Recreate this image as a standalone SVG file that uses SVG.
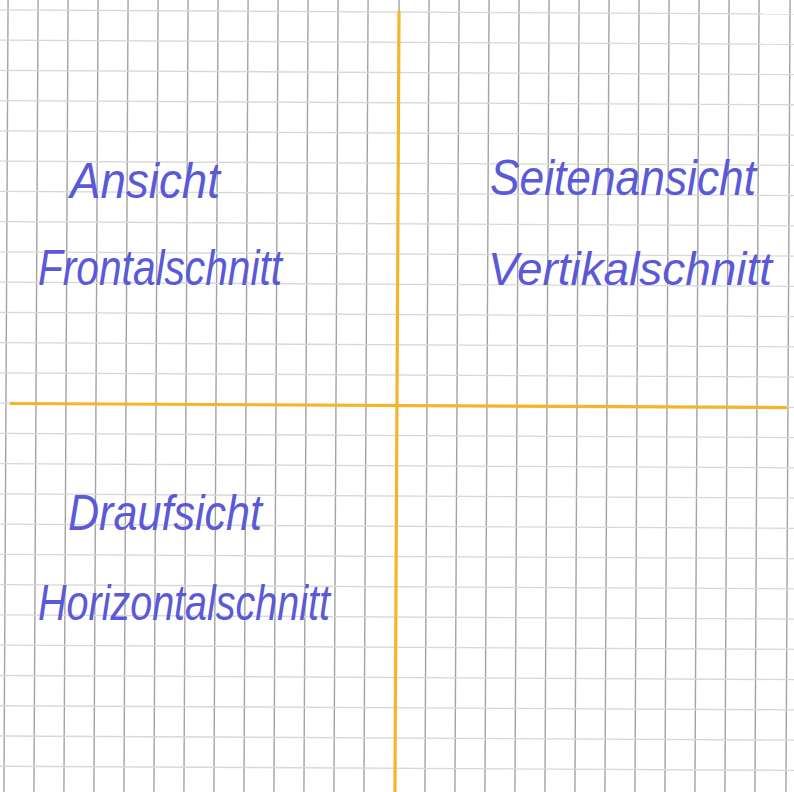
<svg xmlns="http://www.w3.org/2000/svg" width="794" height="792" viewBox="0 0 794 792">
<style>
.v{stroke:#a3a3a3;stroke-width:1.4}
.h{stroke:#d8d8d8;stroke-width:1.4}
.ax{stroke:#f4b42c;stroke-width:3.2;stroke-linecap:round}
.t{font-family:"Liberation Sans",sans-serif;font-style:italic;fill:#5a5ad8;font-size:50px}
</style>
<rect width="794" height="792" fill="#ffffff"/>
<g id="grid" transform="rotate(0.3 397 396)">
<g id="vlines">
<line class="v" x1="6" y1="-10" x2="6" y2="800"/><line class="v" x1="36" y1="-10" x2="36" y2="800"/><line class="v" x1="66" y1="-10" x2="66" y2="800"/><line class="v" x1="96" y1="-10" x2="96" y2="800"/><line class="v" x1="126" y1="-10" x2="126" y2="800"/><line class="v" x1="156" y1="-10" x2="156" y2="800"/><line class="v" x1="186" y1="-10" x2="186" y2="800"/><line class="v" x1="216" y1="-10" x2="216" y2="800"/><line class="v" x1="246" y1="-10" x2="246" y2="800"/><line class="v" x1="276" y1="-10" x2="276" y2="800"/><line class="v" x1="306" y1="-10" x2="306" y2="800"/><line class="v" x1="336" y1="-10" x2="336" y2="800"/><line class="v" x1="366" y1="-10" x2="366" y2="800"/><line class="v" x1="397" y1="-10" x2="397" y2="800"/><line class="v" x1="427" y1="-10" x2="427" y2="800"/><line class="v" x1="457" y1="-10" x2="457" y2="800"/><line class="v" x1="487" y1="-10" x2="487" y2="800"/><line class="v" x1="517" y1="-10" x2="517" y2="800"/><line class="v" x1="547" y1="-10" x2="547" y2="800"/><line class="v" x1="577" y1="-10" x2="577" y2="800"/><line class="v" x1="607" y1="-10" x2="607" y2="800"/><line class="v" x1="637" y1="-10" x2="637" y2="800"/><line class="v" x1="667" y1="-10" x2="667" y2="800"/><line class="v" x1="697" y1="-10" x2="697" y2="800"/><line class="v" x1="727" y1="-10" x2="727" y2="800"/><line class="v" x1="757" y1="-10" x2="757" y2="800"/><line class="v" x1="788" y1="-10" x2="788" y2="800"/>
</g>
<g id="hlines">
<line class="h" x1="-10" y1="12" x2="804" y2="12"/><line class="h" x1="-10" y1="42.25" x2="804" y2="42.25"/><line class="h" x1="-10" y1="72.5" x2="804" y2="72.5"/><line class="h" x1="-10" y1="102.75" x2="804" y2="102.75"/><line class="h" x1="-10" y1="133" x2="804" y2="133"/><line class="h" x1="-10" y1="163.25" x2="804" y2="163.25"/><line class="h" x1="-10" y1="193.5" x2="804" y2="193.5"/><line class="h" x1="-10" y1="223.75" x2="804" y2="223.75"/><line class="h" x1="-10" y1="254" x2="804" y2="254"/><line class="h" x1="-10" y1="284.25" x2="804" y2="284.25"/><line class="h" x1="-10" y1="314.5" x2="804" y2="314.5"/><line class="h" x1="-10" y1="344.75" x2="804" y2="344.75"/><line class="h" x1="-10" y1="375" x2="804" y2="375"/><line class="h" x1="-10" y1="405.25" x2="804" y2="405.25"/><line class="h" x1="-10" y1="435.5" x2="804" y2="435.5"/><line class="h" x1="-10" y1="465.75" x2="804" y2="465.75"/><line class="h" x1="-10" y1="496" x2="804" y2="496"/><line class="h" x1="-10" y1="526.25" x2="804" y2="526.25"/><line class="h" x1="-10" y1="556.5" x2="804" y2="556.5"/><line class="h" x1="-10" y1="586.75" x2="804" y2="586.75"/><line class="h" x1="-10" y1="617" x2="804" y2="617"/><line class="h" x1="-10" y1="647.25" x2="804" y2="647.25"/><line class="h" x1="-10" y1="677.5" x2="804" y2="677.5"/><line class="h" x1="-10" y1="707.75" x2="804" y2="707.75"/><line class="h" x1="-10" y1="738" x2="804" y2="738"/><line class="h" x1="-10" y1="768.25" x2="804" y2="768.25"/>
</g>
<g id="axes">
<line class="ax" x1="397" y1="12" x2="397" y2="800"/>
<line class="ax" x1="11" y1="405.5" x2="786" y2="405.5"/>
</g>
</g>
<g id="label-ansicht"><text class="t" x="70" y="198" textLength="150" lengthAdjust="spacingAndGlyphs">Ansicht</text></g>
<g id="label-frontalschnitt"><text class="t" x="38" y="285" textLength="244" lengthAdjust="spacingAndGlyphs">Frontalschnitt</text></g>
<g id="label-seitenansicht"><text class="t" x="490" y="195" textLength="266" lengthAdjust="spacingAndGlyphs">Seitenansicht</text></g>
<g id="label-vertikalschnitt"><text class="t" x="488" y="285" style="font-size:46px" textLength="284" lengthAdjust="spacingAndGlyphs">Vertikalschnitt</text></g>
<g id="label-draufsicht"><text class="t" x="68" y="530" textLength="194" lengthAdjust="spacingAndGlyphs">Draufsicht</text></g>
<g id="label-horizontalschnitt"><text class="t" x="38" y="620" textLength="292" lengthAdjust="spacingAndGlyphs">Horizontalschnitt</text></g>
</svg>
